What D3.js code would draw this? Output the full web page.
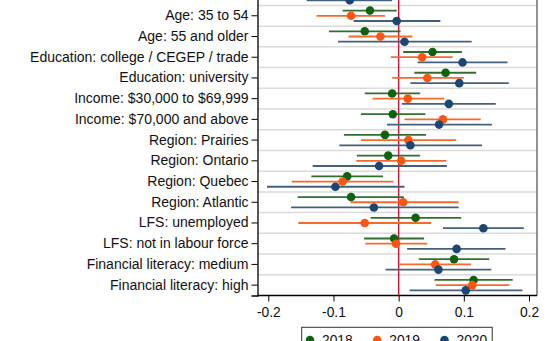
<!DOCTYPE html>
<html><head><meta charset="utf-8">
<script src="https://cdn.jsdelivr.net/npm/d3@7"></script>
<style>
html,body{margin:0;padding:0;background:#fff;overflow:hidden;}
svg{display:block;font-family:Arial,"Liberation Sans",sans-serif;}
</style></head>
<body>
<svg id="chart" width="552" height="341"></svg>
<script>
const categories = [
  "Gender: female",
  "Age: 35 to 54",
  "Age: 55 and older",
  "Education: college / CEGEP / trade",
  "Education: university",
  "Income: $30,000 to $69,999",
  "Income: $70,000 and above",
  "Region: Prairies",
  "Region: Ontario",
  "Region: Quebec",
  "Region: Atlantic",
  "LFS: unemployed",
  "LFS: not in labour force",
  "Financial literacy: medium",
  "Financial literacy: high"
];
const years = ["2018", "2019", "2020"];
const est2018 = [-0.060, -0.044, -0.052, 0.052, 0.072, -0.010, -0.009, -0.021, -0.016, -0.079, -0.073, 0.026, -0.007, 0.085, 0.115];
const lo2018  = [-0.115, -0.086, -0.107, 0.007, 0.024, -0.052, -0.058, -0.084, -0.064, -0.134, -0.155, -0.043, -0.053, 0.031, 0.055];
const hi2018  = [-0.005, -0.003, 0.003, 0.097, 0.119, 0.033, 0.041, 0.042, 0.033, -0.024, 0.008, 0.096, 0.039, 0.139, 0.175];
const est2019 = [-0.070, -0.073, -0.028, 0.036, 0.044, 0.014, 0.068, 0.015, 0.004, -0.086, 0.007, -0.052, -0.004, 0.056, 0.113];
const lo2019  = [-0.130, -0.126, -0.077, -0.012, -0.010, -0.040, 0.009, -0.058, -0.065, -0.164, -0.074, -0.154, -0.051, 0.001, 0.057];
const hi2019  = [-0.010, -0.021, 0.021, 0.083, 0.100, 0.070, 0.126, 0.088, 0.073, -0.008, 0.092, 0.050, 0.044, 0.111, 0.170];
const est2020 = [-0.075, -0.003, 0.009, 0.098, 0.093, 0.077, 0.062, 0.018, -0.030, -0.097, -0.038, 0.130, 0.089, 0.061, 0.103];
const lo2020  = [-0.141, -0.069, -0.093, 0.029, 0.018, 0.005, -0.018, -0.091, -0.132, -0.202, -0.165, 0.068, 0.013, -0.020, 0.017];
const hi2020  = [-0.010, 0.064, 0.112, 0.167, 0.169, 0.149, 0.143, 0.128, 0.074, 0.009, 0.092, 0.192, 0.164, 0.142, 0.190];
const xTicks = [-0.2, -0.1, 0, 0.1, 0.2];
const xTickLabels = ["-0.2", "-0.1", "0", "0.1", "0.2"];

const series = [
  {year: years[0], est: est2018, lo: lo2018, hi: hi2018, dot: "#0e630e", line: "#2f7030"},
  {year: years[1], est: est2019, lo: lo2019, hi: hi2019, dot: "#fa5612", line: "#f9692c"},
  {year: years[2], est: est2020, lo: lo2020, hi: hi2020, dot: "#1d4672", line: "#43607f"}
];

const svg = d3.select("#chart");
const plotL = 257.5, plotR = 537, plotB = 295.5, plotT = -15.3;

const x = d3.scaleLinear().domain([-0.2, 0.2]).range([268.3, 529]);
const y = d3.scaleBand().domain(categories).range([plotT, plotB]).padding(0);
const off = d3.scalePoint().domain(years).range([-5.2, 5.2]);

// gridlines between rows
svg.append("g").selectAll("line").data(categories.slice(1)).join("line")
  .attr("x1", plotL).attr("x2", plotR)
  .attr("y1", d => y(d)).attr("y2", d => y(d))
  .attr("stroke", "#dadada").attr("stroke-width", 1.5);

// zero line
svg.append("line")
  .attr("x1", x(0)).attr("x2", x(0)).attr("y1", plotT).attr("y2", plotB)
  .attr("stroke", "#d8113a").attr("stroke-width", 1.4);

// CIs and dots
series.forEach(s => {
  const g = svg.append("g");
  g.selectAll("line").data(categories).join("line")
    .attr("x1", (d, i) => x(s.lo[i])).attr("x2", (d, i) => x(s.hi[i]))
    .attr("y1", d => y(d) + y.bandwidth() / 2 + off(s.year))
    .attr("y2", d => y(d) + y.bandwidth() / 2 + off(s.year))
    .attr("stroke", s.line).attr("stroke-width", 1.8);
  g.selectAll("circle").data(categories).join("circle")
    .attr("cx", (d, i) => x(s.est[i]))
    .attr("cy", d => y(d) + y.bandwidth() / 2 + off(s.year))
    .attr("r", 4.3).attr("fill", s.dot);
});

// right border
svg.append("line").attr("x1", plotR).attr("x2", plotR).attr("y1", plotT).attr("y2", plotB)
  .attr("stroke", "#5a5a5a").attr("stroke-width", 1.3);

// y axis
const yAxis = d3.axisLeft(y).tickSize(6).tickPadding(3);
const gy = svg.append("g").attr("transform", `translate(${plotL},0)`).call(yAxis);
gy.select(".domain").attr("stroke", "#000").attr("stroke-width", 1.3);
gy.selectAll(".tick line").attr("stroke", "#000").attr("stroke-width", 1);
gy.selectAll("text").attr("font-size", "14px").attr("fill", "#111")
  .attr("font-family", "Arial, 'Liberation Sans', sans-serif");

// x axis
const xAxis = d3.axisBottom(x).tickValues(xTicks).tickFormat((d, i) => xTickLabels[i]).tickSize(6).tickPadding(6).tickSizeOuter(0);
const gx = svg.append("g").attr("transform", `translate(0,${plotB})`).call(xAxis);
gx.select(".domain").attr("d", `M${plotL},0H${plotR}`).attr("stroke", "#000").attr("stroke-width", 1.3);
gx.selectAll(".tick line").attr("stroke", "#000").attr("stroke-width", 1);
gx.selectAll("text").attr("font-size", "13.8px").attr("fill", "#111")
  .attr("font-family", "Arial, 'Liberation Sans', sans-serif");

// legend
const leg = svg.append("g");
leg.append("rect").attr("x", 301.7).attr("y", 327.3).attr("width", 190.5).attr("height", 30)
  .attr("fill", "#fff").attr("stroke", "#333").attr("stroke-width", 1);
const legX = d3.scalePoint().domain(years).range([310, 444.5]);
series.forEach(s => {
  leg.append("circle").attr("cx", legX(s.year)).attr("cy", 340).attr("r", 4.3).attr("fill", s.dot);
  leg.append("text").attr("x", legX(s.year) + 12).attr("y", 345.2).text(s.year)
    .attr("font-size", "13.8px").attr("fill", "#111");
});
</script>
</body></html>
